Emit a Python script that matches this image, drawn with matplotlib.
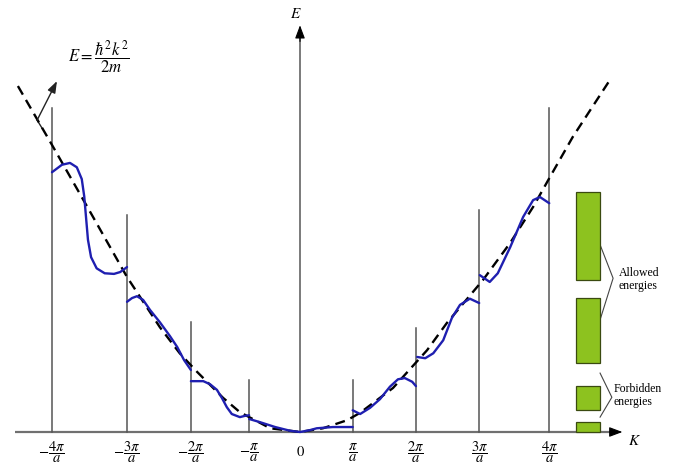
import matplotlib
matplotlib.use("Agg")
import matplotlib.pyplot as plt

plt.rcParams['mathtext.fontset'] = 'stix'
plt.rcParams['font.family'] = ['Liberation Serif', 'DejaVu Serif']

# ---- data (k in drawing units ~ pi/a, E in arbitrary units) ----
zone_k = [-4.0, -2.79, -1.76, -0.82, 0.85, 1.87, 2.89, 4.02]
zone_top = [5.23, 3.50, 1.77, 0.84, 0.84, 1.68, 3.58, 5.23]
tick_k = [-4.0, -2.79, -1.76, -0.82, 0.0, 0.85, 1.87, 2.89, 4.02]
tick_labels = [r'$-\dfrac{4\pi}{a}$', r'$-\dfrac{3\pi}{a}$', r'$-\dfrac{2\pi}{a}$',
               r'$-\dfrac{\pi}{a}$', r'$0$', r'$\dfrac{\pi}{a}$', r'$\dfrac{2\pi}{a}$',
               r'$\dfrac{3\pi}{a}$', r'$\dfrac{4\pi}{a}$']

free_k = [-4.55, -4.00, -3.39, -2.79, -2.26, -1.94, -1.66, -1.24, -0.97, -0.48, 0.0,
          0.37, 0.76, 0.97, 1.50, 2.05, 2.37, 2.95, 3.39, 3.76, 4.03, 4.40, 5.00]
free_E = [5.58, 4.63, 3.56, 2.50, 1.69, 1.27, 0.97, 0.55, 0.32, 0.06, 0.0,
          0.06, 0.19, 0.31, 0.71, 1.32, 1.76, 2.45, 3.05, 3.63, 4.11, 4.76, 5.68]

band_L4_k = [-4.00, -3.84, -3.71, -3.60, -3.52, -3.48, -3.45, -3.42, -3.37, -3.28, -3.15, -3.00, -2.90, -2.79]
band_L4_E = [4.19, 4.31, 4.34, 4.27, 4.08, 3.80, 3.45, 3.10, 2.82, 2.64, 2.56, 2.55, 2.58, 2.66]
band_L3_k = [-2.79, -2.71, -2.63, -2.53, -2.42, -2.26, -2.10, -1.98, -1.87, -1.76]
band_L3_E = [2.10, 2.16, 2.19, 2.13, 1.97, 1.77, 1.55, 1.37, 1.16, 1.00]
band_L2_k = [-1.76, -1.56, -1.45, -1.34, -1.26, -1.18, -1.10, -0.97, -0.89, -0.82]
band_L2_E = [0.82, 0.82, 0.77, 0.68, 0.55, 0.40, 0.29, 0.24, 0.26, 0.27]
band_C_k = [-0.82, -0.65, -0.40, -0.16, 0.0, 0.16, 0.27, 0.53, 0.85]
band_C_E = [0.21, 0.16, 0.08, 0.02, 0.0, 0.03, 0.06, 0.08, 0.08]
band_R2_k = [0.85, 0.97, 1.13, 1.29, 1.45, 1.58, 1.69, 1.81, 1.87]
band_R2_E = [0.35, 0.29, 0.39, 0.53, 0.73, 0.85, 0.87, 0.81, 0.74]
band_R3_k = [1.89, 2.02, 2.15, 2.31, 2.45, 2.58, 2.74, 2.89]
band_R3_E = [1.21, 1.19, 1.27, 1.48, 1.84, 2.05, 2.15, 2.08]
band_R4_k = [2.90, 3.06, 3.19, 3.39, 3.60, 3.76, 3.87, 4.02]
band_R4_E = [2.53, 2.42, 2.56, 2.98, 3.47, 3.74, 3.79, 3.69]

allowed_bottom = [2.45, 1.11, 0.35, 0.0]
allowed_top = [3.87, 2.16, 0.74, 0.16]

fig = plt.figure(figsize=(6.83, 4.70), dpi=100)
ax = fig.add_axes([0, 0, 1, 1])
ax.set_xlim(-300 / 62, 383 / 62)
ax.set_ylim(-38 / 62, 432 / 62)
ax.axis('off')

axis_col = '#707070'
# k axis
ax.plot([-4.6, 5.05], [0, 0], color=axis_col, lw=1.6, zorder=2, solid_capstyle='butt')
ax.annotate('', xy=(5.2, 0), xytext=(5.0, 0),
            arrowprops=dict(arrowstyle='-|>,head_length=0.8,head_width=0.3', color='black', lw=0.8,
                            shrinkA=0, shrinkB=0))
ax.text(5.29, -0.15, r'$K$', fontsize=11, ha='left', va='center')
# E axis
ax.plot([0, 0], [0, 6.4], color=axis_col, lw=1.3, zorder=2)
ax.annotate('', xy=(0, 6.56), xytext=(0, 6.3),
            arrowprops=dict(arrowstyle='-|>,head_length=0.8,head_width=0.3', color='black', lw=0.8,
                            shrinkA=0, shrinkB=0))
ax.text(-0.06, 6.75, r'$E$', fontsize=11, ha='center', va='center')

# zone boundaries
for kk, top in zip(zone_k, zone_top):
    ax.plot([kk, kk], [0, top], color='#555555', lw=1.1, zorder=2)

# free electron curve
ax.plot(free_k, free_E, color='black', lw=1.7, linestyle=(0, (4.2, 2.6)), zorder=3)

# bands
blue = '#1f1fb0'
for bk, bE in [(band_L4_k, band_L4_E), (band_L3_k, band_L3_E), (band_L2_k, band_L2_E),
               (band_C_k, band_C_E), (band_R2_k, band_R2_E), (band_R3_k, band_R3_E),
               (band_R4_k, band_R4_E)]:
    ax.plot(bk, bE, color=blue, lw=1.7, zorder=4, solid_joinstyle='round', solid_capstyle='round')

# tick labels
for kk, lab in zip(tick_k, tick_labels):
    ax.text(kk, -0.33, lab, fontsize=10.5, ha='center', va='center')

# formula + pointer
ax.text(-3.25, 6.05, r'$E=\dfrac{\hbar^2k^2}{2m}$', fontsize=12, ha='center', va='center')
ax.plot([-4.16, -4.24], [4.90, 5.03], color='#222222', lw=1.0)
ax.annotate('', xy=(-3.92, 5.66), xytext=(-4.24, 5.03),
            arrowprops=dict(arrowstyle='-|>,head_length=0.7,head_width=0.25', color='#222222', lw=1.0,
                            shrinkA=0, shrinkB=0))

# allowed energy bars
bar_x = 4.645
heights = [t - b for t, b in zip(allowed_top, allowed_bottom)]
ax.bar([bar_x] * len(heights), heights, bottom=allowed_bottom, width=0.39,
       color='#8dc21f', edgecolor='#3a4a10', linewidth=0.9, zorder=3)

# braces
ax.plot([4.84, 5.05, 4.84], [3.02, 2.48, 1.81], color='#444444', lw=0.8)
ax.plot([4.84, 5.03, 4.84], [0.95, 0.56, 0.24], color='#444444', lw=0.8)
ax.text(5.14, 2.46, 'Allowed\nenergies', fontsize=8.5, ha='left', va='center', linespacing=1.05)
ax.text(5.06, 0.59, 'Forbidden\nenergies', fontsize=8.5, ha='left', va='center', linespacing=1.05)

fig.savefig('out.png', dpi=100)
